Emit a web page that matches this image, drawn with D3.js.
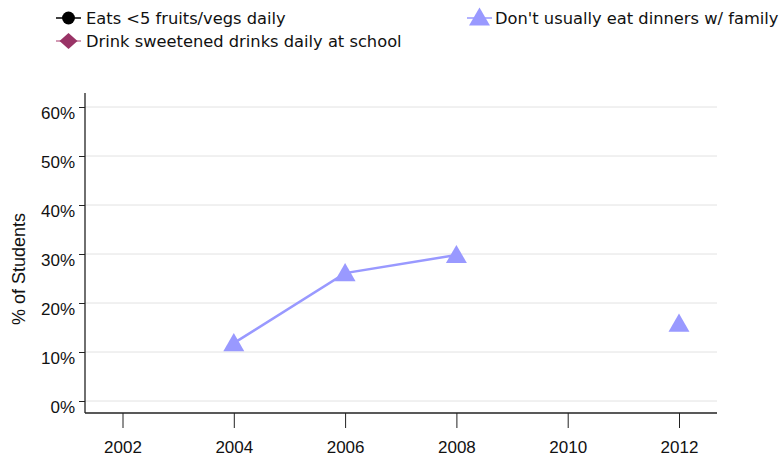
<!DOCTYPE html>
<html>
<head>
<meta charset="utf-8">
<script src="https://cdn.jsdelivr.net/npm/d3@7"></script>
<style>
  body { margin: 0; background: #fff; }
  svg { display: block; }
  .tick-label { font-family: "Liberation Sans", Arial, sans-serif; font-size: 17px; fill: #111; }
  .axis-title { font-family: "Liberation Sans", Arial, sans-serif; font-size: 18px; fill: #111; }
  .legend-text { font-family: "DejaVu Sans", Verdana, sans-serif; font-size: 16.3px; fill: #111; }
</style>
</head>
<body>
<svg id="chart" width="780" height="462"></svg>
<script>
// chart data
const years = [2002, 2004, 2006, 2008, 2010, 2012];
const yTicks = [0, 10, 20, 30, 40, 50, 60];
const fruitsVegs = [null, null, null, null, null, null];
const sweetDrinks = [null, null, null, null, null, null];
const noFamilyDinner = [null, 11.8, 26.1, 29.8, null, 15.8];

const seriesNames = [
    "Eats <5 fruits/vegs daily",
    "Don't usually eat dinners w/ family",
    "Drink sweetened drinks daily at school"
];

const svg = d3.select("#chart");

const x = d3.scaleLinear().domain([2002, 2012]).range([122.5, 679]);
const y = d3.scaleLinear().domain([0, 60]).range([401, 107]);

const plotLeft = 85, plotRight = 717, plotBottom = 413, plotTop = 93;

// gridlines
svg.append("g")
    .selectAll("line")
    .data(yTicks)
    .enter()
    .append("line")
    .attr("x1", plotLeft)
    .attr("x2", plotRight)
    .attr("y1", d => y(d))
    .attr("y2", d => y(d))
    .attr("stroke", "#e2e2e2")
    .attr("stroke-width", 1);

// y axis
const yAxis = d3.axisLeft(y)
    .tickValues(yTicks)
    .tickSize(6)
    .tickFormat(d => d + "%");
const gy = svg.append("g")
    .attr("transform", `translate(${plotLeft},0)`)
    .call(yAxis);
gy.select(".domain").remove();
gy.selectAll(".tick line").attr("stroke", "#222");
gy.selectAll(".tick text")
    .attr("class", "tick-label")
    .attr("x", -10)
    .attr("dy", "0.85em")
    .attr("y", -2.5);

svg.append("line")
    .attr("x1", plotLeft).attr("x2", plotLeft)
    .attr("y1", plotTop).attr("y2", plotBottom)
    .attr("stroke", "#222").attr("stroke-width", 1.3);

// x axis
const xAxis = d3.axisBottom(x)
    .tickValues(years)
    .tickSize(15)
    .tickFormat(d3.format("d"));
const gx = svg.append("g")
    .attr("transform", `translate(0,${plotBottom})`)
    .call(xAxis);
gx.select(".domain").remove();
gx.selectAll(".tick line").attr("stroke", "#222");
gx.selectAll(".tick text")
    .attr("class", "tick-label")
    .attr("y", 28)
    .attr("dy", "0.71em");

svg.append("line")
    .attr("x1", plotLeft).attr("x2", plotRight)
    .attr("y1", plotBottom).attr("y2", plotBottom)
    .attr("stroke", "#222").attr("stroke-width", 1.3);

// y label
svg.append("text")
    .attr("class", "axis-title")
    .attr("transform", "translate(25,269) rotate(-90)")
    .attr("text-anchor", "middle")
    .text("% of Students");

// series
const lineGen = d3.line()
    .defined(d => d.v != null)
    .x(d => x(d.year))
    .y(d => y(d.v));

const triangle = d3.symbol().type(d3.symbolTriangle).size(190);
const circle = d3.symbol().type(d3.symbolCircle).size(130);
// wide diamond: square turned 45deg, squashed a little vertically
const diamond = "M-9,0L0,-8L9,0L0,8Z";

const series = [
    { values: fruitsVegs, color: "#000000", symbol: circle },
    { values: sweetDrinks, color: "#993366", symbol: diamond },
    { values: noFamilyDinner, color: "#9999ff", symbol: triangle }
];

series.forEach(s => {
    const pts = years.map((yr, i) => ({ year: yr, v: s.values[i] }));
    svg.append("path")
        .datum(pts)
        .attr("fill", "none")
        .attr("stroke", s.color)
        .attr("stroke-width", 2.5)
        .attr("d", lineGen);
    svg.append("g")
        .selectAll("path")
        .data(pts.filter(d => d.v != null))
        .enter()
        .append("path")
        .attr("transform", d => `translate(${x(d.year)},${y(d.v) + 2})`)
        .attr("d", s.symbol)
        .attr("fill", s.color);
});

// legend
const legendItems = [
    { name: seriesNames[0], color: "#000000", line: "#000000", symbol: circle, lx: 56, ly: 18 },
    { name: seriesNames[1], color: "#9999ff", line: "#9999ff", symbol: triangle, lx: 467, ly: 18 },
    { name: seriesNames[2], color: "#993366", line: "#c47a9c", symbol: diamond, lx: 56, ly: 41 }
];

const legend = svg.append("g");
legendItems.forEach(it => {
    const g = legend.append("g").attr("transform", `translate(${it.lx},${it.ly})`);
    g.append("line")
        .attr("x1", 0).attr("x2", 25)
        .attr("y1", 0).attr("y2", 0)
        .attr("stroke", it.line)
        .attr("stroke-width", 1.5);
    g.append("path")
        .attr("transform", `translate(12.5,${it.symbol === triangle ? 1.5 : 0})`)
        .attr("d", it.symbol)
        .attr("fill", it.color);
    g.append("text")
        .attr("class", "legend-text")
        .attr("x", it.lx === 56 ? 30 : 28)
        .attr("dy", "0.35em")
        .text(it.name);
});
</script>
</body>
</html>
